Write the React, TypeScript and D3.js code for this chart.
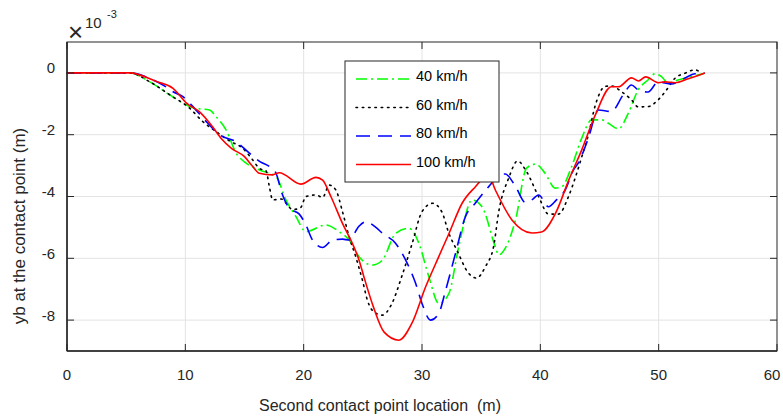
import * as d3 from "d3";

// x: second contact point location (m), y: yb in units of 1e-3 m
const xs40 = [0, 5.3, 7.0, 8.68, 9.8, 10.78, 12.05, 12.6, 13.45, 14.3, 15.14, 16.26, 17.67, 18.5, 19.35, 20.19, 21.88, 23.0, 23.84, 24.68, 25.8, 26.65, 27.78, 28.9, 29.74, 30.58, 31.42, 32.27, 33.1, 34.23, 35.07, 36.2, 36.48, 37.04, 37.9, 38.84, 39.6, 40.4, 41.25, 41.8, 42.65, 43.5, 44.34, 45.2, 45.75, 46.6, 47.43, 48.27, 49.1, 49.68, 50.24, 50.8, 51.64, 52.76, 53.9];
const ys40 = [0, 0, -0.29, -0.71, -0.98, -1.14, -1.2, -1.42, -1.85, -2.6, -2.92, -3.14, -3.36, -4.11, -4.65, -5.14, -4.92, -5.14, -5.41, -5.95, -6.22, -6.06, -5.19, -5.03, -5.52, -6.6, -7.46, -7.14, -5.63, -4.11, -4.33, -5.63, -5.89, -5.67, -4.76, -3.08, -2.95, -3.25, -3.73, -3.69, -3.03, -2.11, -1.52, -1.52, -1.63, -1.81, -1.31, -0.55, -0.23, -0.03, -0.12, -0.33, -0.23, -0.12, -0.01];

const xs60 = [0, 5.3, 7.0, 8.68, 10.36, 11.48, 12.6, 13.73, 14.85, 15.7, 16.26, 16.82, 17.1, 17.38, 18.1, 19.07, 19.7, 20.2, 21.04, 21.6, 22.16, 22.72, 23.28, 23.84, 24.4, 24.96, 25.38, 26.1, 26.65, 27.4, 28.33, 29.17, 30.0, 30.9, 31.68, 32.27, 32.94, 33.95, 34.6, 35.36, 36.06, 36.48, 37.33, 38.08, 38.84, 39.85, 40.7, 41.53, 42.38, 42.97, 43.5, 44.06, 44.65, 45.47, 46.0, 46.87, 47.7, 48.27, 49.1, 49.96, 50.55, 51.39, 52.23, 53.07, 53.6];
const ys60 = [0, 0, -0.29, -0.71, -1.14, -1.58, -1.9, -2.2, -2.44, -2.82, -3.09, -3.17, -3.68, -4.11, -4.08, -4.42, -4.38, -4.0, -3.95, -4.03, -3.63, -3.79, -4.49, -5.3, -5.95, -6.7, -7.35, -7.78, -7.84, -7.51, -6.54, -5.52, -4.49, -4.22, -4.5, -5.19, -5.73, -6.49, -6.64, -6.27, -5.6, -4.5, -3.4, -2.85, -3.2, -4.0, -4.57, -4.57, -4.0, -3.37, -2.72, -2.0, -1.04, -0.44, -0.42, -0.61, -0.87, -1.1, -1.09, -0.87, -0.61, -0.17, -0.01, 0.1, -0.01];

const xs80 = [0, 5.3, 7.27, 8.11, 8.96, 9.8, 10.64, 11.63, 12.97, 14.3, 15.42, 16.34, 17.1, 17.67, 18.1, 18.79, 19.63, 20.19, 20.75, 21.6, 22.44, 23.28, 23.84, 24.68, 25.25, 26.1, 26.65, 27.78, 28.62, 29.46, 30.0, 30.72, 31.42, 32.0, 32.83, 33.67, 34.5, 35.64, 36.48, 37.04, 37.88, 38.73, 39.28, 39.85, 40.69, 41.36, 42.1, 42.8, 43.2, 44.06, 44.9, 46.0, 47.0, 47.7, 48.27, 49.1, 49.96, 51.08, 52.2, 53.05, 53.9];
const ys80 = [0, 0, -0.23, -0.39, -0.61, -0.77, -1.09, -1.52, -2.02, -2.23, -2.6, -2.88, -3.03, -3.25, -3.82, -4.38, -4.57, -4.92, -5.41, -5.65, -5.41, -5.38, -5.41, -4.96, -4.82, -5.0, -5.19, -5.52, -6.06, -6.81, -7.46, -8.0, -7.78, -7.03, -5.84, -4.65, -4.22, -3.68, -3.34, -3.27, -3.66, -4.19, -4.11, -3.95, -4.33, -4.11, -3.79, -3.14, -2.92, -2.11, -1.2, -1.25, -0.71, -0.39, -0.55, -0.62, -0.29, -0.36, -0.17, -0.03, -0.01];

const xs100 = [0, 5.3, 7.56, 8.96, 10.1, 11.2, 12.3, 13.03, 13.9, 15.0, 15.7, 16.26, 17.35, 17.94, 19.77, 21.04, 21.6, 22.3, 23.28, 24.12, 24.68, 25.1, 25.9, 26.8, 28.05, 29.15, 30.3, 31.4, 32.3, 33.4, 34.5, 35.6, 36.2, 37.6, 39.3, 40.1, 41.3, 42.4, 43.5, 44.65, 46.0, 46.6, 47.7, 48.3, 48.9, 50.0, 50.5, 51.4, 52.5, 53.9];
const ys100 = [0, 0, -0.28, -0.5, -0.98, -1.26, -1.74, -2.12, -2.44, -2.71, -3.03, -3.25, -3.3, -3.23, -3.6, -3.38, -3.47, -4.0, -4.87, -5.52, -6.06, -6.61, -7.58, -8.39, -8.65, -8.1, -6.93, -5.96, -5.18, -4.21, -3.69, -3.3, -3.79, -4.76, -5.18, -5.15, -4.53, -3.47, -2.49, -1.36, -0.45, -0.45, -0.16, -0.26, -0.13, -0.32, -0.29, -0.32, -0.19, 0];

const seriesNames = ["40 km/h", "60 km/h", "80 km/h", "100 km/h"];
const xTicks = [0, 10, 20, 30, 40, 50, 60];
const yTicks = [-8, -6, -4, -2, 0];

const styles = [
  { color: "#00ff00", dash: "11,4,2,4" },
  { color: "#000000", dash: "1.5,4.8" },
  { color: "#0000ff", dash: "14,8" },
  { color: "#ff0000", dash: null as string | null },
];

const W = 783;
const H = 417;
const left = 67, right = 777, top = 42, bottom = 351;
const font = "'Liberation Sans', Arial, sans-serif";

export default function App() {
  const x = d3.scaleLinear().domain([0, 60]).range([left, right]);
  const y = d3.scaleLinear().domain([-9, 1]).range([bottom, top]);

  const all = [
    d3.zip(xs40, ys40),
    d3.zip(xs60, ys60),
    d3.zip(xs80, ys80),
    d3.zip(xs100, ys100),
  ];

  const line = d3
    .line<number[]>()
    .x((d) => x(d[0]))
    .y((d) => y(d[1]))
    .curve(d3.curveMonotoneX);

  const axisColor = "#262626";
  const tickLen = 7;

  return (
    <svg width={W} height={H} style={{ position: "absolute", left: 0, top: 0, background: "#fff" }} fontFamily={font}>
      <rect width={W} height={H} fill="#fff" />
      {/* grid */}
      {xTicks.slice(1, -1).map((t) => (
        <line key={"gx" + t} x1={x(t)} x2={x(t)} y1={top} y2={bottom} stroke="#e3e3e3" strokeWidth={1} />
      ))}
      {yTicks.map((t) => (
        <line key={"gy" + t} x1={left} x2={right} y1={y(t)} y2={y(t)} stroke="#e3e3e3" strokeWidth={1} />
      ))}

      {/* series */}
      {all.map((pts, i) => (
        <path
          key={seriesNames[i]}
          d={line(pts) || ""}
          fill="none"
          stroke={styles[i].color}
          strokeWidth={1.6}
          strokeDasharray={styles[i].dash || undefined}
          strokeLinecap={i === 1 ? "round" : "butt"}
        />
      ))}

      {/* box + ticks */}
      <rect x={left} y={top} width={right - left} height={bottom - top} fill="none" stroke={axisColor} strokeWidth={1} />
      <line x1={left} x2={left} y1={top} y2={bottom} stroke={axisColor} strokeWidth={1.5} />
      <line x1={left} x2={right} y1={bottom} y2={bottom} stroke={axisColor} strokeWidth={1.5} />
      {xTicks.map((t, i) => (
        <g key={"xt" + t}>
          <line x1={x(t)} x2={x(t)} y1={bottom} y2={bottom - tickLen} stroke={axisColor} />
          <line x1={x(t)} x2={x(t)} y1={top} y2={top + tickLen} stroke={axisColor} />
          <text
            x={i === xTicks.length - 1 ? Math.min(x(t), W - 11) : x(t)}
            y={380}
            textAnchor="middle"
            fontSize={15}
            fill="#262626"
          >
            {t}
          </text>
        </g>
      ))}
      {yTicks.map((t) => (
        <g key={"yt" + t}>
          <line x1={left} x2={left + tickLen} y1={y(t)} y2={y(t)} stroke={axisColor} />
          <line x1={right} x2={right - tickLen} y1={y(t)} y2={y(t)} stroke={axisColor} />
          <text x={55} y={y(t) + 0.5} textAnchor="end" fontSize={15} fill="#262626">
            {t}
          </text>
        </g>
      ))}

      {/* exponent */}
      <text x={68} y={41} fontSize={26} fill="#262626">×</text>
      <text x={85} y={28} fontSize={15} fill="#262626">10</text>
      <text x={107} y={18} fontSize={11} fill="#262626">-3</text>

      {/* axis labels */}
      <text transform="translate(25,226) rotate(-90)" textAnchor="middle" fontSize={17} fill="#262626">
        yb at the contact point (m)
      </text>
      <text x={380} y={411} textAnchor="middle" fontSize={16} fill="#262626" style={{ whiteSpace: "pre" }}>
        {"Second contact point location  (m)"}
      </text>

      {/* legend */}
      <rect x={345} y={61} width={154} height={121} fill="#fff" stroke="#262626" strokeWidth={1} />
      {seriesNames.map((name, i) => {
        const ly = 79 + i * 28.5;
        return (
          <g key={"lg" + name}>
            <line
              x1={356}
              x2={411}
              y1={ly}
              y2={ly}
              stroke={styles[i].color}
              strokeWidth={1.6}
              strokeDasharray={styles[i].dash || undefined}
              strokeLinecap={i === 1 ? "round" : "butt"}
            />
            <text x={416} y={ly + 2} fontSize={14.5} fill="#000">
              {name}
            </text>
          </g>
        );
      })}
    </svg>
  );
}
